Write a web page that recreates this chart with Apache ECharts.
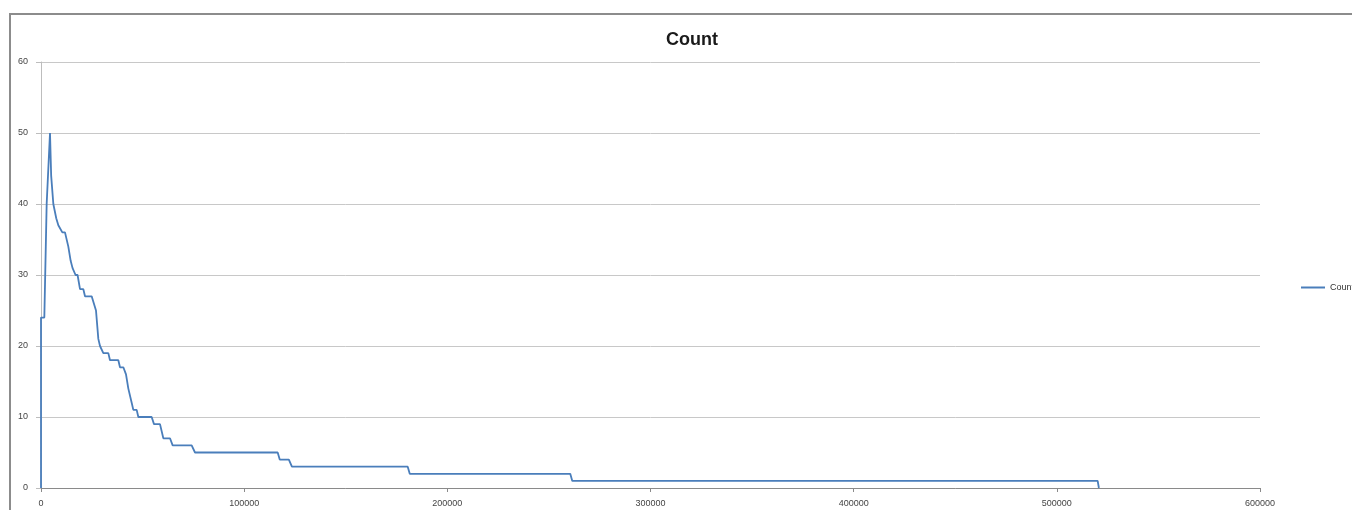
<!DOCTYPE html>
<html>
<head>
<meta charset="utf-8">
<title>Count</title>
<script src="https://cdn.jsdelivr.net/npm/echarts@6/dist/echarts.min.js"></script>
<style>
  html, body { margin: 0; padding: 0; background: #ffffff; }
  #chart { width: 1352px; height: 510px; }
</style>
</head>
<body>
<div id="chart"></div>
<script>
// Series: x position and count at that position
var xValues = [0, 0, 1640, 2790, 4430, 5000, 6070, 7500, 8530, 10500, 11810, 13450, 14600, 15500,
  17000, 18000, 19200, 20840, 21660, 24940, 25770, 27070, 28220, 29040, 30680, 33140, 33960,
  38060, 38880, 40530, 41840, 42990, 44630, 45450, 47090, 47910, 54470, 55620, 58570, 60210,
  63490, 64800, 74160, 75800, 116500, 117500, 122000, 123500, 180500, 181500, 260500, 261500,
  520100, 520700];
var counts = [0, 24, 24, 40, 50, 44, 40, 38, 37, 36, 36, 34, 32, 31,
  30, 30, 28, 28, 27, 27, 27, 25, 21, 20, 19, 19, 18,
  18, 17, 17, 16, 14, 12, 11, 11, 10, 10, 9, 9, 7,
  7, 6, 6, 5, 5, 4, 4, 3, 3, 2, 2, 1,
  1, 0];

var seriesName = 'Count';
var xTicks = [0, 100000, 200000, 300000, 400000, 500000, 600000];
var yTicks = [0, 10, 20, 30, 40, 50, 60];

var points = xValues.map(function (x, i) { return [x, counts[i]]; });

var chart = echarts.init(document.getElementById('chart'), null, { renderer: 'canvas' });

var font = 'Liberation Sans, DejaVu Sans, sans-serif';

chart.setOption({
  animation: false,
  backgroundColor: '#ffffff',
  title: {
    text: seriesName,
    left: 687,
    top: 26,
    textAlign: 'center',
    textStyle: { fontFamily: font, fontSize: 18, fontWeight: 'bold', color: '#1a1a1a' }
  },
  legend: {
    data: [{ name: seriesName, icon: 'rect' }],
    left: 1296,
    top: 278,
    itemWidth: 24,
    itemHeight: 2,
    textStyle: { fontFamily: font, fontSize: 9, color: '#333333' }
  },
  graphic: [{
    type: 'rect',
    silent: true,
    shape: { x: 10, y: 14, width: 1400, height: 600 },
    style: { fill: 'none', stroke: '#8c8c8c', lineWidth: 2 }
  }],
  grid: { left: 41, right: 92, top: 62, bottom: 22, containLabel: false },
  xAxis: {
    type: 'value',
    min: xTicks[0],
    max: xTicks[xTicks.length - 1],
    interval: xTicks[1] - xTicks[0],
    axisLine: { show: true, lineStyle: { color: '#8a8a8a', width: 1 } },
    axisTick: { show: true, length: 4, lineStyle: { color: '#8a8a8a' } },
    axisLabel: {
      margin: 11, fontFamily: font, fontSize: 9, color: '#444444',
      formatter: function (v) { return String(v); }
    },
    splitLine: { show: false }
  },
  yAxis: {
    type: 'value',
    min: yTicks[0],
    max: yTicks[yTicks.length - 1],
    interval: yTicks[1] - yTicks[0],
    axisLine: { show: true, lineStyle: { color: '#bdbdbd', width: 1 } },
    axisTick: { show: true, length: 5, lineStyle: { color: '#bdbdbd' } },
    axisLabel: { margin: 13, fontFamily: font, fontSize: 9, color: '#444444' },
    splitLine: { show: true, lineStyle: { color: '#c8c8c8', width: 1 } }
  },
  series: [{
    name: seriesName,
    type: 'line',
    data: points,
    showSymbol: false,
    symbol: 'none',
    lineStyle: { color: '#4a7ebb', width: 1.8 },
    itemStyle: { color: '#4a7ebb' }
  }]
});
</script>
</body>
</html>
